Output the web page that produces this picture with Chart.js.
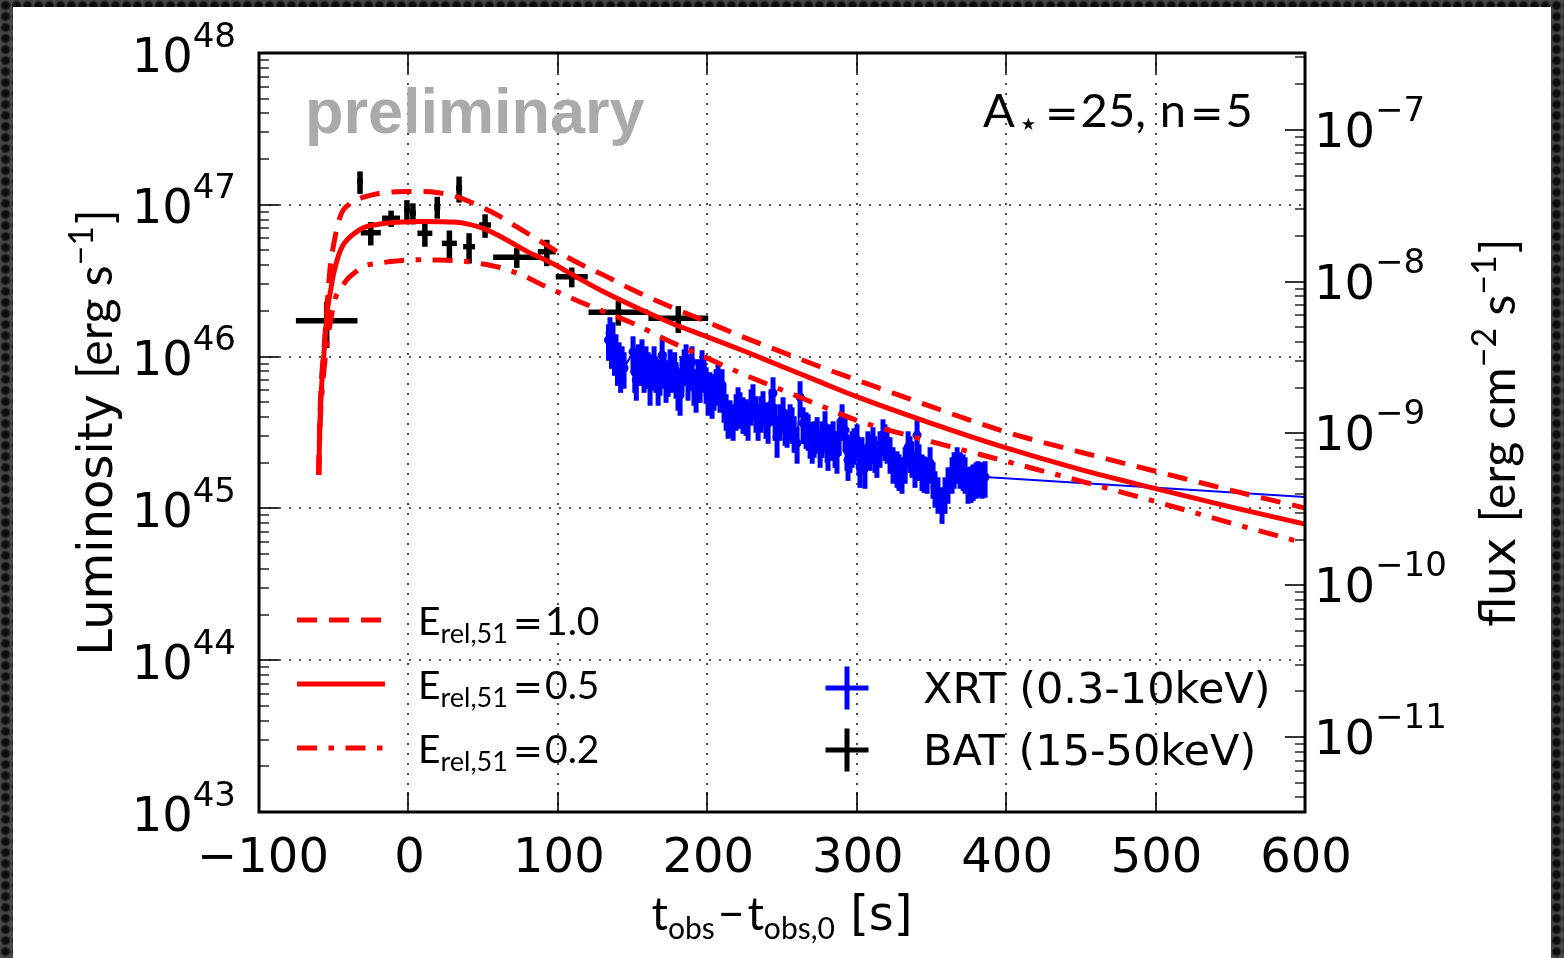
<!DOCTYPE html>
<html>
<head>
<meta charset="utf-8">
<script src="https://cdn.jsdelivr.net/npm/chart.js@4.4.1/dist/chart.umd.min.js"></script>
<style>
  html, body { margin: 0; padding: 0; width: 1564px; height: 958px; overflow: hidden; }
  body {
    background-color: #333333;
    background-image: radial-gradient(circle at 50% 50%, #080808 0, #111111 3.3px, #2e2e2e 4.4px, #474747 5.6px);
    background-size: 11px 11px;
  }
  #panel { position: absolute; left: 13px; top: 7px; width: 1538px; height: 951px; background: #ffffff; }
  canvas { display: block; }
</style>
</head>
<body>
<div id="panel"><canvas id="lc" width="1538" height="951"></canvas></div>
<script>
// ---------------- axes ----------------
const xRange = [-100, 600];                 // t_obs - t_obs,0 [s]
const lumRange = [1e43, 1e48];              // erg s^-1
const fluxRange = [3.21e-12, 3.21e-7];      // erg cm^-2 s^-1
const xTickValues = [-100, 0, 100, 200, 300, 400, 500, 600];
const lumExponents = [43, 44, 45, 46, 47, 48];
const fluxExponents = [-11, -10, -9, -8, -7];

// ---------------- model light curves (log10 L [erg/s]) ----------------
const modelTime = [-60, -59.5, -59, -58, -57, -56, -54, -52, -50, -47,
  -44, -40, -35, -30, -20, -10, 0, 10, 20, 30,
  40, 50, 60, 70, 80, 90, 100, 115, 130, 150,
  175, 200, 225, 250, 275, 300, 350, 400, 450, 500,
  550, 600];
const logL_E10 = [45.22, 45.5, 45.68, 45.88, 46.0, 46.12, 46.40, 46.62, 46.74, 46.88,
  46.96, 47.0, 47.03, 47.05, 47.075, 47.085, 47.087, 47.087, 47.08, 47.06,
  47.025, 46.98, 46.93, 46.87, 46.81, 46.75, 46.69, 46.61, 46.54, 46.44,
  46.33, 46.228, 46.125, 46.03, 45.935, 45.846, 45.67, 45.503, 45.37, 45.245,
  45.12, 45.003];
const logL_E05 = [45.22, 45.45, 45.62, 45.82, 45.96, 46.09, 46.32, 46.44, 46.55, 46.66,
  46.73, 46.78, 46.82, 46.85, 46.872, 46.884, 46.889, 46.89, 46.889, 46.886,
  46.873, 46.845, 46.80, 46.745, 46.69, 46.645, 46.595, 46.51, 46.43, 46.335,
  46.225, 46.13, 46.035, 45.935, 45.835, 45.736, 45.56, 45.398, 45.255, 45.13,
  45.01, 44.897];
const logL_E02 = [45.22, 45.42, 45.58, 45.74, 45.86, 45.96, 46.12, 46.24, 46.35, 46.43,
  46.47, 46.52, 46.56, 46.595, 46.615, 46.628, 46.636, 46.638, 46.636, 46.632,
  46.625, 46.61, 46.59, 46.56, 46.52, 46.47, 46.425, 46.36, 46.30, 46.22,
  46.10, 45.99, 45.88, 45.78, 45.68, 45.58, 45.44, 45.31, 45.18, 45.045,
  44.905, 44.77];

// ---------------- BAT (15-50 keV), L in units of 1e46 erg/s ----------------
const batTime = [-54.7, -32.4, -25.2, -11.6, -1.0, 3.0, 11.0, 19.3, 27.4, 33.9, 40.6, 51.3, 72.5, 92.6, 109.3, 140.5, 180.6];
const batTimeErr = [20.6, 2.0, 6.7, 6.0, 2.0, 2.0, 5.0, 2.0, 5.0, 2.0, 4.0, 4.0, 15.8, 6.0, 10.7, 20.0, 20.0];
const batLum = [1.72, 14.2, 6.55, 8.15, 9.33, 8.83, 6.49, 9.70, 5.57, 12.85, 5.30, 7.36, 4.51, 4.91, 3.36, 1.96, 1.79];
const batLumErr = [0.58, 2.4, 1.15, 1.0, 1.4, 1.4, 1.2, 1.6, 1.2, 2.5, 1.2, 1.3, 0.67, 0.97, 0.5, 0.36, 0.36];

// ---------------- XRT (0.3-10 keV), log10 L [erg/s] ----------------
const xrtTime = [133.9, 134.9, 135.9, 136.9, 137.9, 138.9, 139.9, 141.0, 142.0, 143.0, 144.3,
  150.3, 151.5, 152.5, 153.7, 155.0, 156.3, 157.7, 159.0, 160.4, 161.7,
  163.1, 164.4, 165.7, 167.1, 168.4, 169.8, 171.1, 172.4, 173.8, 175.1,
  176.4, 178.2, 179.1, 180.4, 181.8, 183.1, 184.5, 185.8, 187.1, 188.5,
  189.8, 191.1, 192.5, 193.8, 195.2, 196.5, 197.8, 199.2, 200.5, 201.8,
  203.2, 204.5, 205.9, 207.2, 208.5, 209.9, 211.2, 212.6, 213.9, 215.2,
  217.3, 219.3, 220.6, 221.9, 223.9, 225.9, 227.3, 229.3, 230.6, 232.6,
  234.0, 236.0, 237.3, 239.3, 240.7, 242.7, 244.0, 245.4, 246.7, 248.7,
  250.7, 252.1, 253.4, 255.4, 256.7, 258.1, 260.1, 262.1, 264.1, 266.1,
  267.5, 268.8, 270.2, 271.5, 273.5, 275.5, 276.8, 278.8, 280.2, 280.8,
  282.8, 284.2, 285.5, 286.8, 288.2, 290.2, 292.2, 293.5, 294.2, 295.5,
  296.9, 298.2, 300.2, 301.5, 302.2, 303.5, 305.5, 307.5, 308.9, 310.9,
  312.2, 313.5, 315.6, 317.6, 318.9, 320.3, 322.3, 324.3, 327.0, 328.3,
  330.3, 332.4, 334.4, 335.7, 337.0, 339.0, 340.4, 341.7, 343.7, 345.1,
  347.1, 349.1, 351.1, 352.4, 354.4, 357.1, 359.1, 361.1, 363.8, 365.2,
  367.2, 369.2, 371.2, 372.5, 374.5, 376.5, 377.9, 379.9, 381.2, 383.9,
  385.9, 600];
const xrtLogL = [46.109, 46.155, 46.056, 46.122, 46.010, 46.043, 45.944, 45.990, 45.898, 45.964, 45.925,
  46.030, 45.898, 45.846, 45.977, 45.944, 46.010, 45.898, 45.964, 45.925, 45.813,
  45.911, 45.964, 45.898, 45.813, 45.879, 46.010, 45.925, 45.832, 45.872, 45.944,
  45.898, 45.925, 45.859, 45.780, 45.747, 45.898, 45.944, 45.977, 45.846, 45.911,
  45.964, 45.813, 45.767, 45.879, 45.832, 45.938, 45.898, 45.826, 45.747, 45.793,
  45.727, 45.780, 45.813, 45.859, 45.767, 45.813, 45.701, 45.648, 45.595, 45.608,
  45.582, 45.648, 45.694, 45.661, 45.628, 45.615, 45.582, 45.681, 45.714, 45.635,
  45.582, 45.635, 45.668, 45.595, 45.562, 45.681, 45.760, 45.582, 45.470, 45.582,
  45.628, 45.549, 45.536, 45.582, 45.562, 45.503, 45.431, 45.734, 45.562, 45.529,
  45.516, 45.464, 45.431, 45.470, 45.497, 45.404, 45.470, 45.536, 45.437, 45.384,
  45.450, 45.470, 45.404, 45.365, 45.483, 45.582, 45.516, 45.384, 45.318, 45.371,
  45.404, 45.424, 45.450, 45.351, 45.272, 45.365, 45.266, 45.404, 45.384, 45.431,
  45.371, 45.338, 45.404, 45.483, 45.450, 45.431, 45.365, 45.299, 45.272, 45.252,
  45.233, 45.299, 45.404, 45.371, 45.338, 45.272, 45.483, 45.318, 45.252, 45.239,
  45.233, 45.299, 45.200, 45.141, 45.101, 45.035, 45.101, 45.167, 45.233, 45.266,
  45.299, 45.266, 45.252, 45.233, 45.167, 45.173, 45.186, 45.200, 45.207, 45.200,
  45.207, 45.075];
const xrtRelErr = 0.27;         // fractional 1-sigma error on each XRT bin
const xrtLastBin = xrtTime.length - 2;   // the final entry only continues the light-curve line

// ---------------- styling ----------------
const RED = '#ff0000', BLUE = '#0000ff', INK = '#000000';
const DEJAVU = '"DejaVu Sans"';
const MATH = 'Lato, "DejaVu Sans"';
const DASHED = [20, 12];
const DASHDOT = [20, 11.5, 5.5, 11.5];

const pow10 = v => Math.pow(10, v);
const modelPoints = arr => modelTime.map((t, i) => ({ x: t, y: pow10(arr[i]) }));

// ---------------- text helpers ----------------
function runsWidth(ctx, runs) {
  let w = 0;
  for (const r of runs) { ctx.font = r.font; w += (r.gap || 0) + ctx.measureText(r.text).width; }
  return w;
}
function drawRuns(ctx, runs, x, y) {
  for (const r of runs) {
    x += r.gap || 0;
    ctx.font = r.font;
    ctx.fillText(r.text, x, y + (r.dy || 0));
    x += ctx.measureText(r.text).width;
  }
  return x;
}
function seg(ctx, x1, y1, x2, y2) { ctx.beginPath(); ctx.moveTo(x1, y1); ctx.lineTo(x2, y2); ctx.stroke(); }

// ---------------- error bars drawn through the scales ----------------
const errorBars = {
  id: 'errorBars',
  beforeDatasetDraw(chart, args) {
    const ds = chart.data.datasets[args.index];
    if (!ds.errorBar) return;
    const { ctx, chartArea: a } = chart;
    const xs = chart.scales.x, ys = chart.scales.y;
    const eb = ds.errorBar;
    ctx.save();
    ctx.beginPath(); ctx.rect(a.left, a.top, a.right - a.left, a.bottom - a.top); ctx.clip();
    ctx.strokeStyle = eb.color; ctx.lineWidth = eb.width; ctx.lineCap = 'butt';
    ds.data.forEach((p, i) => {
      if (eb.skip && eb.skip(i)) return;
      const dx = eb.xErr ? eb.xErr(i) : 0;
      const dy = eb.yErr(i);
      const px = xs.getPixelForValue(p.x), py = ys.getPixelForValue(p.y);
      if (dx > 0) seg(ctx, xs.getPixelForValue(p.x - dx), py, xs.getPixelForValue(p.x + dx), py);
      seg(ctx, px, ys.getPixelForValue(p.y - dy), px, ys.getPixelForValue(p.y + dy));
    });
    ctx.restore();
  }
};

// ---------------- frame, ticks, labels, legend, annotations ----------------
const frame = {
  id: 'frame',
  beforeDatasetsDraw(chart) {
    const { ctx, chartArea: a, scales: { x, y } } = chart;
    ctx.save();
    ctx.strokeStyle = '#222';
    ctx.lineWidth = 1.6;
    ctx.setLineDash([2, 8]);
    xTickValues.forEach(v => {
      if (v === xRange[0] || v === xRange[1]) return;
      const px = Math.round(x.getPixelForValue(v));
      seg(ctx, px, a.top, px, a.bottom);
    });
    lumExponents.forEach(e => {
      const py = Math.round(y.getPixelForValue(pow10(e)));
      if (py <= a.top + 1 || py >= a.bottom - 1) return;
      seg(ctx, a.left, py, a.right, py);
    });
    ctx.restore();
  },
  afterDatasetsDraw(chart) {
    const { ctx, chartArea: a, scales: { x, y, yFlux } } = chart;
    const MAJOR = 20, MINOR = 10;
    ctx.save();
    ctx.strokeStyle = INK;
    ctx.fillStyle = INK;

    // tick marks pointing into the plot
    ctx.lineWidth = 1.6;
    xTickValues.forEach(v => {
      const px = Math.round(x.getPixelForValue(v));
      seg(ctx, px, a.bottom, px, a.bottom - MAJOR);
      seg(ctx, px, a.top, px, a.top + MAJOR);
    });
    const logTicks = (scale, lo, hi, edge, dir) => {
      for (let e = Math.floor(Math.log10(lo)); e <= Math.ceil(Math.log10(hi)); e++) {
        for (let k = 1; k <= 9; k++) {
          const v = k * pow10(e);
          if (v < lo * 0.999 || v > hi * 1.001) continue;
          const py = Math.round(scale.getPixelForValue(v));
          ctx.lineWidth = k === 1 ? 1.6 : 1.3;
          seg(ctx, edge, py, edge + dir * (k === 1 ? MAJOR : MINOR), py);
        }
      }
    };
    logTicks(y, lumRange[0], lumRange[1], a.left, 1);
    logTicks(yFlux, fluxRange[0], fluxRange[1], a.right, -1);

    // axes box
    ctx.lineWidth = 3;
    ctx.strokeRect(a.left, a.top, a.right - a.left, a.bottom - a.top);

    // tick labels
    ctx.textBaseline = 'alphabetic';
    ctx.textAlign = 'left';
    const base = '48px ' + DEJAVU, sup = '34px ' + DEJAVU;
    lumExponents.forEach(e => {
      const py = y.getPixelForValue(pow10(e));
      const runs = [{ text: '10', font: base }, { text: String(e), font: sup, dy: -25 }];
      drawRuns(ctx, runs, a.left - 23 - runsWidth(ctx, runs), py + 18.5);
    });
    fluxExponents.forEach(e => {
      const py = yFlux.getPixelForValue(pow10(e));
      drawRuns(ctx, [{ text: '10', font: base }, { text: '\u2212' + Math.abs(e), font: sup, dy: -26 }], a.right + 9, py + 17);
    });
    ctx.textAlign = 'center';
    ctx.font = base;
    xTickValues.forEach(v => {
      const label = v < 0 ? '\u2212' + Math.abs(v) : String(v);
      ctx.fillText(label, x.getPixelForValue(v) + (v < 0 ? 4 : 1), a.bottom + 60);
    });
    ctx.textAlign = 'left';

    // axis titles
    const midY = (a.top + a.bottom) / 2;
    const leftTitle = [
      { text: 'Luminosity ', font: '48px ' + DEJAVU },
      { text: '[erg s', font: '48px ' + MATH },
      { text: '\u22121', font: '34px ' + MATH, dy: -19 },
      { text: ']', font: '48px ' + MATH, gap: 2 }
    ];
    ctx.save();
    ctx.translate(a.left - 147, midY);
    ctx.rotate(-Math.PI / 2);
    drawRuns(ctx, leftTitle, -runsWidth(ctx, leftTitle) / 2, 0);
    ctx.restore();

    const rightTitle = [
      { text: 'flux ', font: '48px ' + DEJAVU },
      { text: '[erg cm', font: '48px ' + MATH },
      { text: '\u22122', font: '34px ' + MATH, dy: -19 },
      { text: ' s', font: '48px ' + MATH },
      { text: '\u22121', font: '34px ' + MATH, dy: -19 },
      { text: ']', font: '48px ' + MATH, gap: 2 }
    ];
    ctx.save();
    ctx.translate(a.right + 210, midY);
    ctx.rotate(-Math.PI / 2);
    drawRuns(ctx, rightTitle, -runsWidth(ctx, rightTitle) / 2, 0);
    ctx.restore();

    const xTitle = [
      { text: 't', font: '46px ' + MATH },
      { text: 'obs', font: '30px ' + MATH, dy: 9 },
      { text: '\u2212', font: '46px ' + MATH, gap: 3 },
      { text: 't', font: '46px ' + MATH, gap: 3 },
      { text: 'obs,0', font: '30px ' + MATH, dy: 9 },
      { text: ' [s]', font: '48px ' + DEJAVU }
    ];
    drawRuns(ctx, xTitle, (a.left + a.right) / 2 - runsWidth(ctx, xTitle) / 2, a.bottom + 118);

    // watermark and model parameters
    ctx.fillStyle = '#aaaaaa';
    ctx.font = 'bold 63px "Liberation Sans"';
    ctx.fillText('preliminary', a.left + 46, a.top + 80);
    ctx.fillStyle = INK;
    drawRuns(ctx, [
      { text: 'A', font: '47px ' + MATH },
      { text: '\u22C6', font: '34px "DejaVu Sans"', dy: 8, gap: 3 },
      { text: '=', font: '40px "DejaVu Sans"', gap: 6 },
      { text: '25,', font: '47px ' + MATH, gap: 2 },
      { text: 'n', font: '47px ' + MATH, gap: 14 },
      { text: '=', font: '40px "DejaVu Sans"', gap: 4 },
      { text: '5', font: '47px ' + MATH, gap: 2 }
    ], a.right - 322, a.top + 74);

    // legend: models
    const models = [
      { dash: DASHED, label: '1.0', dy: -192 },
      { dash: [], label: '0.5', dy: -128 },
      { dash: DASHDOT, label: '0.2', dy: -64 }
    ];
    models.forEach(m => {
      const ly = a.bottom + m.dy;
      ctx.save();
      ctx.strokeStyle = RED; ctx.lineWidth = 5; ctx.lineCap = 'butt';
      ctx.setLineDash(m.dash);
      seg(ctx, a.left + 38, ly, a.left + 126, ly);
      ctx.restore();
      drawRuns(ctx, [
        { text: 'E', font: '39px ' + MATH },
        { text: 'rel,51', font: '27px ' + MATH, dy: 8 },
        { text: '=', font: '36px "DejaVu Sans"', gap: 5 },
        { text: m.label, font: '39px ' + MATH, gap: 2 }
      ], a.left + 159, ly + 15);
    });

    // legend: data
    const dataKeys = [
      { color: BLUE, label: 'XRT (0.3-10keV)', dy: -124 },
      { color: INK, label: 'BAT (15-50keV)', dy: -62 }
    ];
    dataKeys.forEach(d => {
      const cx = a.left + 588, cy = a.bottom + d.dy;
      ctx.save();
      ctx.strokeStyle = d.color; ctx.lineWidth = 5;
      seg(ctx, cx - 21.5, cy, cx + 21.5, cy);
      seg(ctx, cx, cy - 21.5, cx, cy + 21.5);
      ctx.restore();
      ctx.font = '43px ' + DEJAVU;
      ctx.fillText(d.label, a.left + 664, cy + 15);
    });
    ctx.restore();
  }
};

function build() {
  const ctx = document.getElementById('lc').getContext('2d');
  new Chart(ctx, {
    type: 'line',
    data: {
      datasets: [
        {
          label: 'E_rel,51 = 1.0', data: modelPoints(logL_E10), order: 0,
          borderColor: RED, borderWidth: 5, borderDash: DASHED, pointRadius: 0,
          cubicInterpolationMode: 'monotone', fill: false
        },
        {
          label: 'E_rel,51 = 0.5', data: modelPoints(logL_E05), order: 0,
          borderColor: RED, borderWidth: 5, pointRadius: 0,
          cubicInterpolationMode: 'monotone', fill: false
        },
        {
          label: 'E_rel,51 = 0.2', data: modelPoints(logL_E02), order: 0,
          borderColor: RED, borderWidth: 5, borderDash: DASHDOT, pointRadius: 0,
          cubicInterpolationMode: 'monotone', fill: false
        },
        {
          label: 'BAT (15-50keV)', order: 1,
          data: batTime.map((t, i) => ({ x: t, y: batLum[i] * 1e46 })),
          showLine: false, pointRadius: 0, borderColor: INK, backgroundColor: INK,
          errorBar: {
            color: INK, width: 5.5,
            xErr: i => batTimeErr[i],
            yErr: i => batLumErr[i] * 1e46
          }
        },
        {
          label: 'XRT (0.3-10keV)', order: 2,
          data: xrtTime.map((t, i) => ({ x: t, y: pow10(xrtLogL[i]) })),
          borderColor: BLUE, backgroundColor: BLUE, borderWidth: 2,
          pointRadius: c => (c.dataIndex > xrtLastBin ? 0 : 4.5),
          pointBorderWidth: 0, tension: 0, fill: false,
          errorBar: {
            color: BLUE, width: 5,
            skip: i => i > xrtLastBin,
            yErr: i => pow10(xrtLogL[i]) * xrtRelErr
          }
        }
      ]
    },
    options: {
      responsive: false,
      animation: false,
      devicePixelRatio: 1,
      events: [],
      layout: { autoPadding: false, padding: { top: 46, left: 0, right: 0, bottom: 0 } },
      plugins: { legend: { display: false }, tooltip: { enabled: false } },
      scales: {
        x: {
          type: 'linear', min: xRange[0], max: xRange[1],
          ticks: { display: false }, grid: { display: false }, border: { display: false },
          afterFit: s => { s.height = 146; }
        },
        y: {
          type: 'logarithmic', position: 'left', min: lumRange[0], max: lumRange[1],
          ticks: { display: false }, grid: { display: false }, border: { display: false },
          afterFit: s => { s.width = 246; }
        },
        yFlux: {
          type: 'logarithmic', position: 'right', min: fluxRange[0], max: fluxRange[1],
          ticks: { display: false }, grid: { display: false }, border: { display: false },
          afterFit: s => { s.width = 246; }
        }
      }
    },
    plugins: [errorBars, frame]
  });
}

const fontLoads = ['48px "DejaVu Sans"', '48px Lato', 'bold 63px "Liberation Sans"'].map(f => document.fonts.load(f));
Promise.all(fontLoads).then(build, build);
</script>
</body>
</html>
